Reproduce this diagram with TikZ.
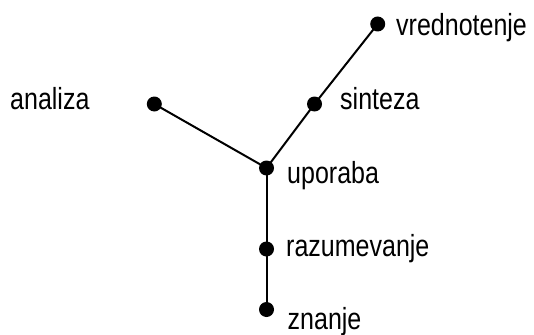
\documentclass[tikz,border=0pt]{standalone}
\usepackage{fontspec}
\setmainfont[FakeStretch=0.82]{Liberation Sans}
\begin{document}
\begin{tikzpicture}[x=1pt,y=-1pt,
  dot/.style={circle,fill=black,inner sep=0pt,minimum size=15pt},
  lbl/.style={anchor=base west,inner sep=0pt,font=\fontsize{30.5}{36}\selectfont},
  edge/.style={line width=2pt}]
\useasboundingbox (0,0) rectangle (534,334);
\node[dot] (v) at (377.7,24) {};
\node[dot] (s) at (314.5,104) {};
\node[dot] (a) at (154.3,104) {};
\node[dot] (u) at (266.5,168) {};
\node[dot] (r) at (266.5,249) {};
\node[dot] (z) at (266.5,309.5) {};
\draw[edge] (a.center) -- (u.center);
\draw[edge] (u.center) -- (s.center) -- (v.center);
\draw[edge] (u.center) -- (r.center) -- (z.center);
\node[lbl] (tv) at (396,36) {vrednotenje};
\node[lbl] (ts) at (340,110) {sinteza};
\node[lbl] (ta) at (10,110) {analiza};
\node[lbl] (tu) at (287,183.5) {uporaba};
\node[lbl] (tr) at (286,256.5) {razumevanje};
\node[lbl] (tz) at (287.5,329.5) {znanje};
\end{tikzpicture}
\end{document}
